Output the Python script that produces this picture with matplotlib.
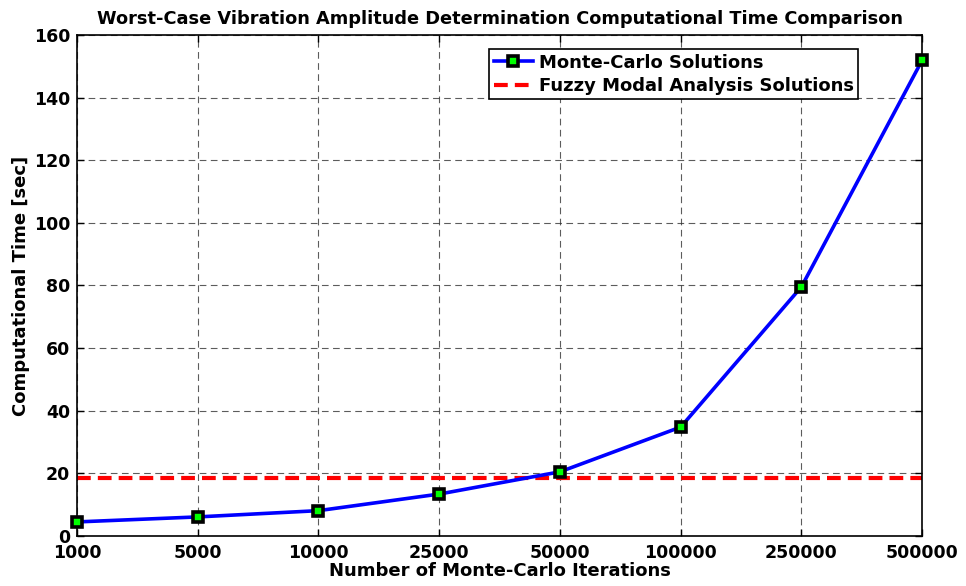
import numpy as np
import matplotlib.pyplot as plt

plt.rcParams['font.family'] = ['DejaVu Sans']
plt.rcParams['font.weight'] = 'bold'

iterations = ['1000', '5000', '10000', '25000', '50000', '100000', '250000', '500000']
mc_time = [4.5, 6.1, 8.1, 13.4, 20.5, 34.8, 79.6, 152.0]
fuzzy_time = 18.6

fig = plt.figure(figsize=(9.66, 5.86), dpi=100, facecolor='white')
ax = fig.add_axes([0.0797, 0.0853, 0.875, 0.855])

x = np.arange(len(iterations))
ax.plot(x, mc_time, color='#0000ff', lw=2.6, marker='s', ms=7,
        mfc='#00ff00', mec='black', mew=2.6, label='Monte-Carlo Solutions', zorder=3,
        clip_on=False)
ax.axhline(fuzzy_time, color='#ff0000', lw=3, ls=(0, (3.3, 1.7)),
           label='Fuzzy Modal Analysis Solutions', zorder=2)

ax.set_xlim(0, len(iterations) - 1)
ax.set_ylim(0, 160)
ax.set_xticks(x)
ax.set_xticklabels(iterations)
ax.set_yticks(np.arange(0, 161, 20))
ax.tick_params(direction='in', top=True, right=True, labelsize=12.5, length=5, width=1)
ax.tick_params(axis='x', pad=6)
ax.tick_params(axis='y', pad=5)
for s in ax.spines.values():
    s.set_linewidth(1.2)

ax.grid(True, color='#333333', ls=(0, (6, 4)), lw=0.8, alpha=0.8)
ax.set_axisbelow(True)

ax.set_xlabel('Number of Monte-Carlo Iterations', fontsize=13, fontweight='bold', labelpad=0)
ax.set_ylabel('Computational Time [sec]', fontsize=13, fontweight='bold', labelpad=3)
ax.set_title('Worst-Case Vibration Amplitude Determination Computational Time Comparison',
             fontsize=12.8, fontweight='bold', pad=8)

leg = ax.legend(loc='upper right', bbox_to_anchor=(0.935, 0.99), fontsize=13,
                frameon=True, fancybox=False, edgecolor='black', framealpha=1,
                handlelength=2.2, handletextpad=0.3, borderpad=0.25, labelspacing=0.3)
leg.get_frame().set_linewidth(1.2)

fig.savefig('out.png', dpi=100, facecolor='white')
